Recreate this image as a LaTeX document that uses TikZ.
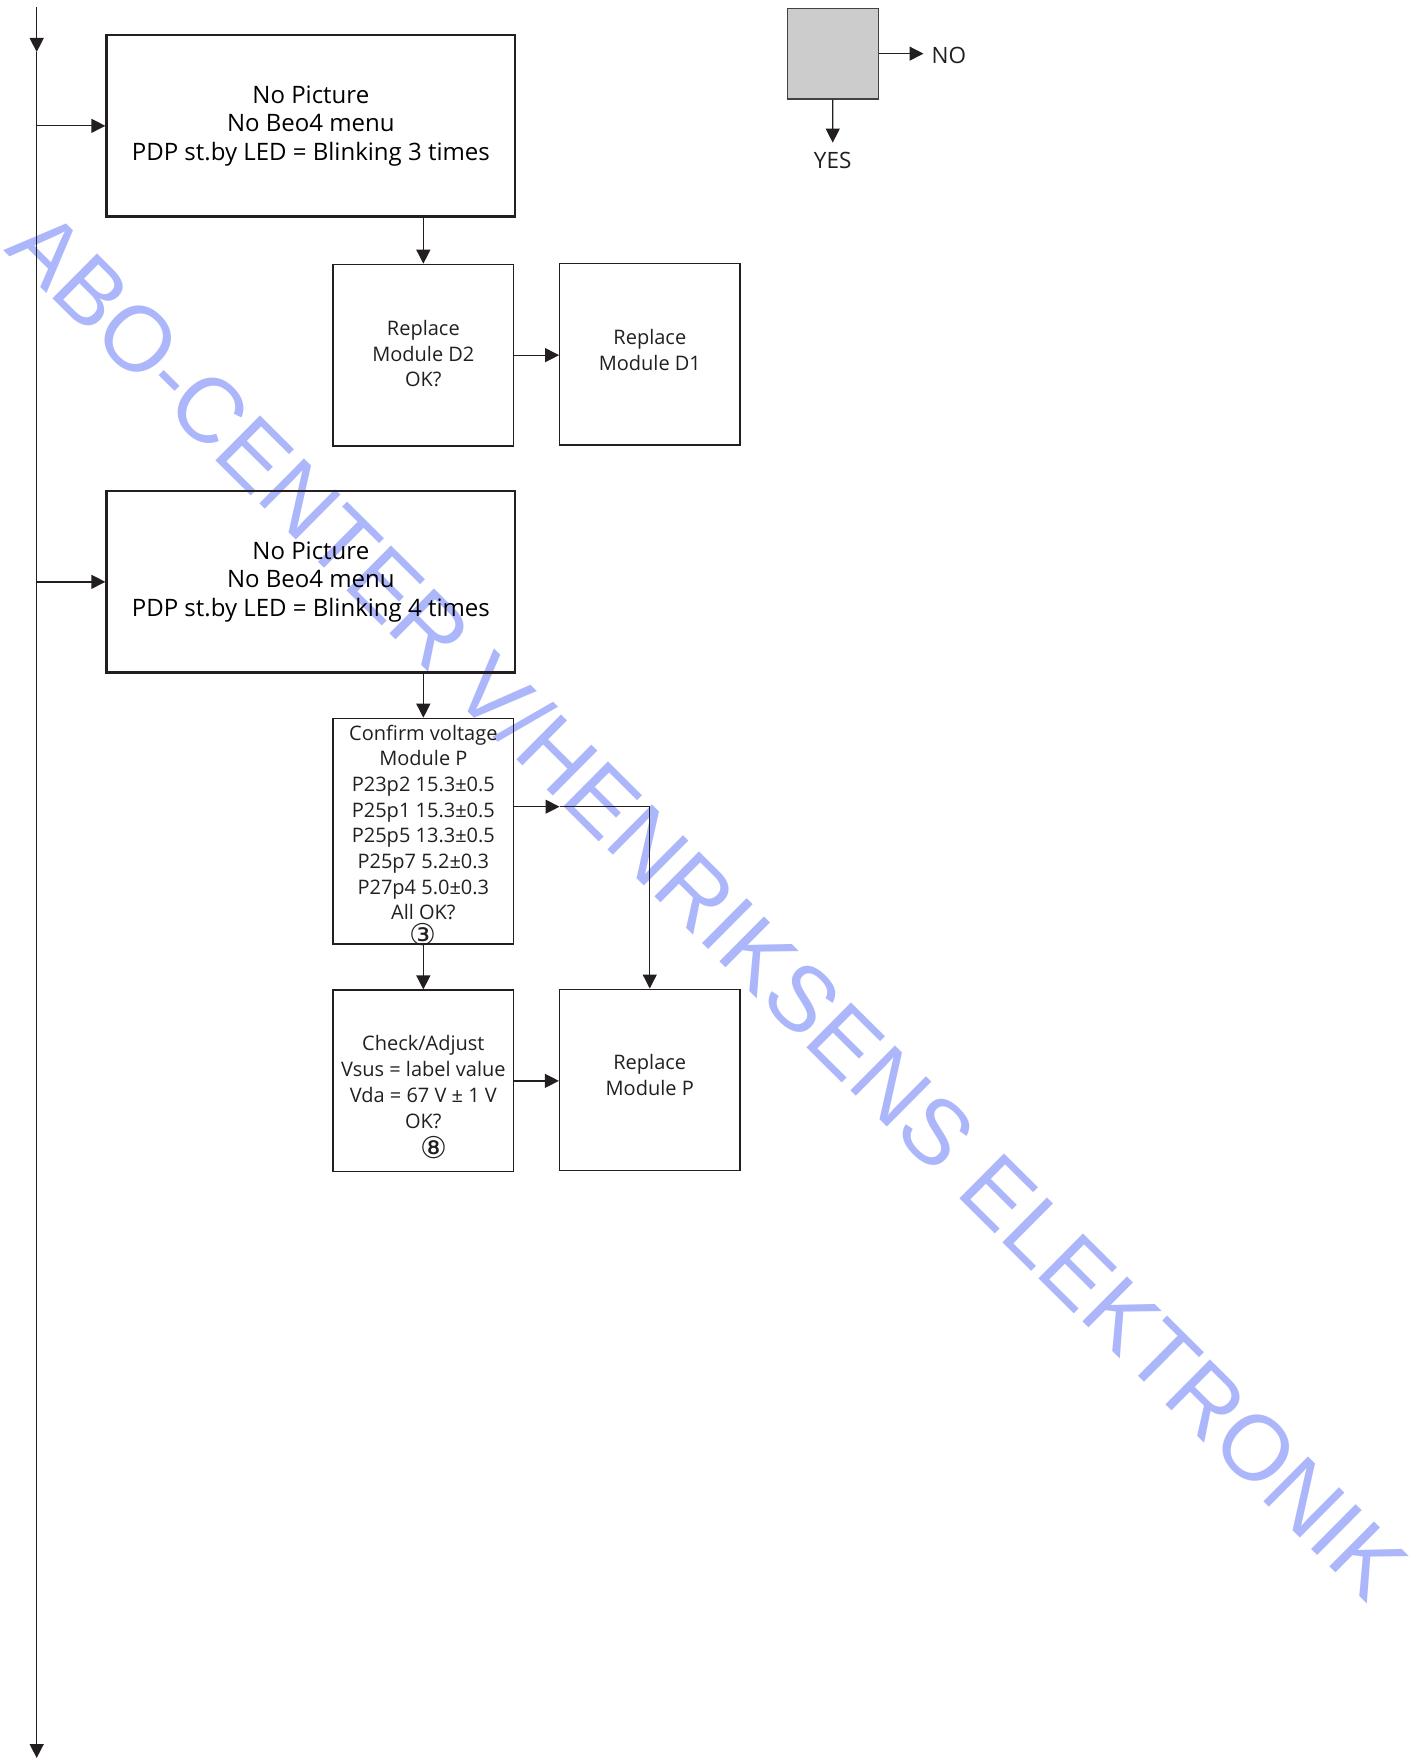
\documentclass[tikz,border=0pt]{standalone}
\usepackage{fontspec}
\setmainfont{Open Sans}
\newfontfamily\wmfont{Liberation Sans}
\newfontfamily\symfont{DejaVu Sans}
\usetikzlibrary{arrows.meta}
\definecolor{wmblue}{RGB}{172,182,250}
\definecolor{legendgray}{RGB}{204,204,204}
\definecolor{inkc}{RGB}{35,31,32}
\newcommand{\circnum}[1]{\smash{\symfont\fontsize{30}{30}\selectfont #1}}
\begin{document}
\begin{tikzpicture}[x=1pt,y=-1pt,
  bigbox/.style={draw=inkc, line width=2.7pt, rectangle, minimum width=408.3pt, minimum height=181.7pt, inner sep=0pt, align=center, font=\fontsize{24}{28.5}\selectfont},
  smallbox/.style={draw=inkc, line width=1.2pt, rectangle, minimum width=180.7pt, minimum height=181.7pt, inner sep=0pt},
  boxtext/.style={inner sep=0pt, align=center, text=inkc, font=\fontsize{20}{25.8}\selectfont},
  conn/.style={draw=inkc, line width=1.3pt, -{Triangle[length=14pt,width=14pt]}},
  lbl/.style={inner sep=0pt, font=\fontsize{22.5}{27}\selectfont, text=inkc},
  ]
\useasboundingbox (0,0) rectangle (1414,1758);

% watermark
\node[rotate=-44.8, text=wmblue, font=\wmfont\fontsize{92}{92}\selectfont, inner sep=0pt] (wm) at (709,904) {ABO-CENTER V/HENRIKSENS ELEKTRONIK};

% main vertical line
\coordinate (top) at (36.7,7);
\coordinate (mk) at (36.7,52);
\coordinate (bot) at (36.7,1758);
\draw[conn, line width=1.4pt] (top) -- (mk);
\draw[conn, line width=1.4pt] (mk) -- (bot);

% boxes
\node[bigbox] (b1) at (310.85,125.85) {No Picture\\No Beo4 menu\\PDP st.by LED = Blinking 3 times};
\node[smallbox, label={[boxtext, yshift=1.5pt]center:{Replace\\Module D2\\OK?}}] (b2) at (423.35,355.15) {};
\node[smallbox, minimum width=180.3pt, label={[boxtext, yshift=4.5pt]center:{Replace\\Module D1}}] (b3) at (649.85,354.15) {};
\node[bigbox] (b4) at (310.85,581.85) {No Picture\\No Beo4 menu\\PDP st.by LED = Blinking 4 times};
\node[smallbox, minimum height=225.7pt, label={[boxtext, font=\fontsize{20}{25.7}\selectfont, yshift=-4pt]center:{Confirm voltage\\Module P\\P23p2 15.3±0.5\\P25p1 15.3±0.5\\P25p5 13.3±0.5\\P25p7 5.2±0.3\\P27p4 5.0±0.3\\All OK?\\\circnum{③}}}] (b5) at (423.35,831.15) {};
\node[smallbox, label={[boxtext, yshift=-16pt]center:{Check/Adjust\\Vsus = label value\\Vda = 67 V ± 1 V\\OK?\\[4pt]\hspace*{22pt}\circnum{⑧}}}] (b6) at (423.35,1080.85) {};
\node[smallbox, minimum width=180.5pt, label={[boxtext, yshift=5pt]center:{Replace\\Module P}}] (b7) at (649.75,1079.95) {};

% branches from main line
\coordinate (j1) at (36.7,125.85);
\coordinate (j4) at (36.7,581.85);
\draw[conn] (j1) -- (b1.west);
\draw[conn] (j4) -- (b4.west);

% connectors
\draw[conn] (b1.south -| b2.north) -- (b2.north);
\draw[conn] (b2.east) -- (b2.east -| b3.west);
\draw[conn] (b4.south -| b5.north) -- (b5.north);
\coordinate (m5) at (559.5,806.7);
\draw[conn] (b5.east |- m5) -- (m5);
\draw[conn] (m5) -- (m5 -| b7.north) -- (b7.north);
\draw[conn] (b5.south) -- (b6.north);
\draw[conn] (b6.east) -- (b6.east -| b7.west);

% legend
\node[draw=inkc!85, fill=legendgray, line width=1.2pt, minimum width=91pt, minimum height=90.7pt, inner sep=0pt] (lg) at (832.8,53.65) {};
\node[lbl, anchor=west] (no) at (931.5,55) {NO};
\node[lbl] (yes) at (832.7,160.5) {YES};
\draw[conn, shorten >=8pt] (lg.east) -- (lg.east -| no.west);
\draw[conn, shorten >=9.4pt] (lg.south) -- (yes.north);
\end{tikzpicture}
\end{document}
